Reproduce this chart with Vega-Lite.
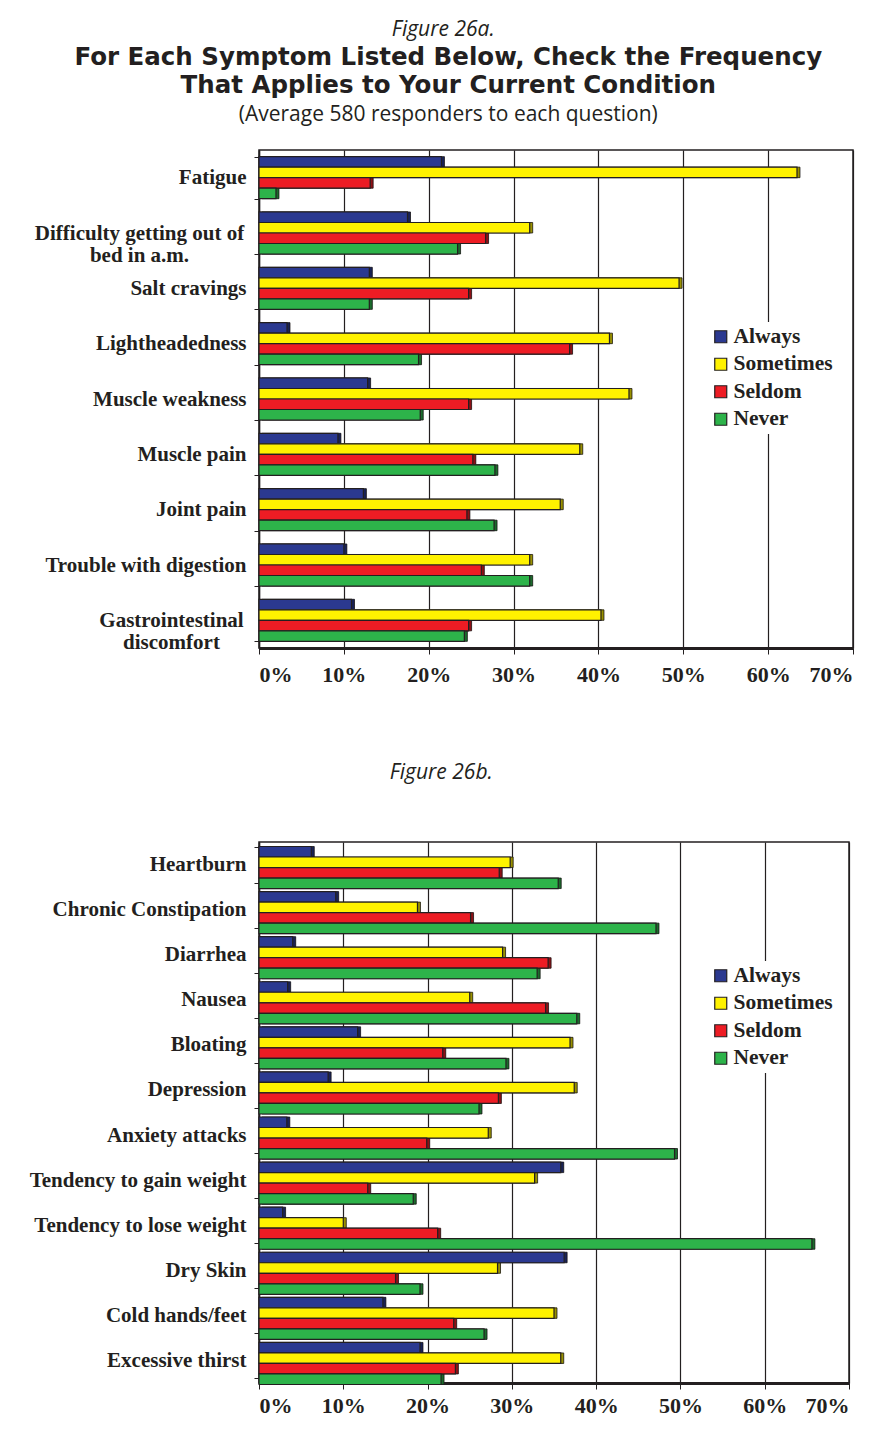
{
  "$schema": "https://vega.github.io/schema/vega-lite/v6.json",
  "background": "white",
  "padding": {"left": 20, "top": 18, "right": 8, "bottom": 5},
  "title": {"text": "Figure 26a.", "font": "Open Sans", "fontStyle": "italic", "fontWeight": "normal", "fontSize": 21, "color": "#231f20", "anchor": "middle", "offset": 4, "dx": 6},
  "datasets": {
    "a": [
      {"s": "Fatigue", "f": "Always", "v": 21.5},
      {"s": "Fatigue", "f": "Sometimes", "v": 63.4},
      {"s": "Fatigue", "f": "Seldom", "v": 13.1},
      {"s": "Fatigue", "f": "Never", "v": 2.0},
      {"s": "Difficulty getting out of bed in a.m.", "f": "Always", "v": 17.5},
      {"s": "Difficulty getting out of bed in a.m.", "f": "Sometimes", "v": 31.9},
      {"s": "Difficulty getting out of bed in a.m.", "f": "Seldom", "v": 26.7},
      {"s": "Difficulty getting out of bed in a.m.", "f": "Never", "v": 23.4},
      {"s": "Salt cravings", "f": "Always", "v": 13.0},
      {"s": "Salt cravings", "f": "Sometimes", "v": 49.5},
      {"s": "Salt cravings", "f": "Seldom", "v": 24.7},
      {"s": "Salt cravings", "f": "Never", "v": 13.0},
      {"s": "Lightheadedness", "f": "Always", "v": 3.3},
      {"s": "Lightheadedness", "f": "Sometimes", "v": 41.3},
      {"s": "Lightheadedness", "f": "Seldom", "v": 36.6},
      {"s": "Lightheadedness", "f": "Never", "v": 18.8},
      {"s": "Muscle weakness", "f": "Always", "v": 12.8},
      {"s": "Muscle weakness", "f": "Sometimes", "v": 43.6},
      {"s": "Muscle weakness", "f": "Seldom", "v": 24.7},
      {"s": "Muscle weakness", "f": "Never", "v": 19.0},
      {"s": "Muscle pain", "f": "Always", "v": 9.3},
      {"s": "Muscle pain", "f": "Sometimes", "v": 37.8},
      {"s": "Muscle pain", "f": "Seldom", "v": 25.2},
      {"s": "Muscle pain", "f": "Never", "v": 27.8},
      {"s": "Joint pain", "f": "Always", "v": 12.3},
      {"s": "Joint pain", "f": "Sometimes", "v": 35.5},
      {"s": "Joint pain", "f": "Seldom", "v": 24.5},
      {"s": "Joint pain", "f": "Never", "v": 27.7},
      {"s": "Trouble with digestion", "f": "Always", "v": 10.0},
      {"s": "Trouble with digestion", "f": "Sometimes", "v": 31.9},
      {"s": "Trouble with digestion", "f": "Seldom", "v": 26.2},
      {"s": "Trouble with digestion", "f": "Never", "v": 31.9},
      {"s": "Gastrointestinal discomfort", "f": "Always", "v": 10.9},
      {"s": "Gastrointestinal discomfort", "f": "Sometimes", "v": 40.3},
      {"s": "Gastrointestinal discomfort", "f": "Seldom", "v": 24.7},
      {"s": "Gastrointestinal discomfort", "f": "Never", "v": 24.2}
    ],
    "b": [
      {"s": "Heartburn", "f": "Always", "v": 6.2},
      {"s": "Heartburn", "f": "Sometimes", "v": 29.8},
      {"s": "Heartburn", "f": "Seldom", "v": 28.5},
      {"s": "Heartburn", "f": "Never", "v": 35.5},
      {"s": "Chronic Constipation", "f": "Always", "v": 9.1},
      {"s": "Chronic Constipation", "f": "Sometimes", "v": 18.8},
      {"s": "Chronic Constipation", "f": "Seldom", "v": 25.1},
      {"s": "Chronic Constipation", "f": "Never", "v": 47.1},
      {"s": "Diarrhea", "f": "Always", "v": 4.0},
      {"s": "Diarrhea", "f": "Sometimes", "v": 28.9},
      {"s": "Diarrhea", "f": "Seldom", "v": 34.3},
      {"s": "Diarrhea", "f": "Never", "v": 33.0},
      {"s": "Nausea", "f": "Always", "v": 3.4},
      {"s": "Nausea", "f": "Sometimes", "v": 25.0},
      {"s": "Nausea", "f": "Seldom", "v": 34.0},
      {"s": "Nausea", "f": "Never", "v": 37.7},
      {"s": "Bloating", "f": "Always", "v": 11.7},
      {"s": "Bloating", "f": "Sometimes", "v": 36.9},
      {"s": "Bloating", "f": "Seldom", "v": 21.8},
      {"s": "Bloating", "f": "Never", "v": 29.3},
      {"s": "Depression", "f": "Always", "v": 8.2},
      {"s": "Depression", "f": "Sometimes", "v": 37.4},
      {"s": "Depression", "f": "Seldom", "v": 28.4},
      {"s": "Depression", "f": "Never", "v": 26.1},
      {"s": "Anxiety attacks", "f": "Always", "v": 3.3},
      {"s": "Anxiety attacks", "f": "Sometimes", "v": 27.2},
      {"s": "Anxiety attacks", "f": "Seldom", "v": 19.9},
      {"s": "Anxiety attacks", "f": "Never", "v": 49.3},
      {"s": "Tendency to gain weight", "f": "Always", "v": 35.8},
      {"s": "Tendency to gain weight", "f": "Sometimes", "v": 32.7},
      {"s": "Tendency to gain weight", "f": "Seldom", "v": 12.9},
      {"s": "Tendency to gain weight", "f": "Never", "v": 18.3},
      {"s": "Tendency to lose weight", "f": "Always", "v": 2.8},
      {"s": "Tendency to lose weight", "f": "Sometimes", "v": 10.0},
      {"s": "Tendency to lose weight", "f": "Seldom", "v": 21.2},
      {"s": "Tendency to lose weight", "f": "Never", "v": 65.6},
      {"s": "Dry Skin", "f": "Always", "v": 36.2},
      {"s": "Dry Skin", "f": "Sometimes", "v": 28.3},
      {"s": "Dry Skin", "f": "Seldom", "v": 16.2},
      {"s": "Dry Skin", "f": "Never", "v": 19.1},
      {"s": "Cold hands/feet", "f": "Always", "v": 14.7},
      {"s": "Cold hands/feet", "f": "Sometimes", "v": 35.0},
      {"s": "Cold hands/feet", "f": "Seldom", "v": 23.1},
      {"s": "Cold hands/feet", "f": "Never", "v": 26.7},
      {"s": "Excessive thirst", "f": "Always", "v": 19.1},
      {"s": "Excessive thirst", "f": "Sometimes", "v": 35.8},
      {"s": "Excessive thirst", "f": "Seldom", "v": 23.3},
      {"s": "Excessive thirst", "f": "Never", "v": 21.6}
    ]
  },
  "vconcat": [
    {
      "data": {"name": "a"},
      "width": 594,
      "height": 498,
      "title": {
        "text": ["For Each Symptom Listed Below, Check the Frequency", "That Applies to Your Current Condition"],
        "subtitle": "(Average 580 responders to each question)",
        "font": "DejaVu Sans", "fontWeight": "bold", "fontSize": 24.5, "lineHeight": 28, "color": "#231f20",
        "subtitleFont": "Open Sans", "subtitleFontSize": 21, "subtitleColor": "#231f20", "subtitlePadding": 6,
        "anchor": "middle", "frame": "bounds", "offset": 13, "dx": 10
      },
      "encoding": {
        "y": {"field": "s", "type": "nominal", "sort": null, "title": null,
          "scale": {"paddingInner": 0.24, "paddingOuter": 0.12},
          "axis": {
            "labelExpr": "datum.value == 'Difficulty getting out of bed in a.m.' ? ['Difficulty getting out of', 'bed in a.m.'] : datum.value == 'Gastrointestinal discomfort' ? ['Gastrointestinal', 'discomfort'] : datum.value",
            "labelAlign": {"condition": {"test": "datum.value == 'Difficulty getting out of bed in a.m.' || datum.value == 'Gastrointestinal discomfort'", "value": "center"}, "value": "right"},
            "labelPadding": {"condition": [{"test": "datum.value == 'Difficulty getting out of bed in a.m.'", "value": 115}, {"test": "datum.value == 'Gastrointestinal discomfort'", "value": 83}], "value": 8},
            "minExtent": 236, "maxExtent": 236
          }
        },
        "yOffset": {"field": "f", "type": "nominal", "sort": ["Always", "Sometimes", "Seldom", "Never"], "scale": {"paddingInner": 0, "paddingOuter": 0}},
        "x": {"field": "v", "type": "quantitative", "title": null, "scale": {"domain": [0, 70], "nice": false}, "axis": {"values": [0, 10, 20, 30, 40, 50, 60, 70], "labelExpr": "datum.value + '%'", "labelPadding": 10}}
      },
      "layer": [
        {
          "mark": {"type": "bar", "xOffset": 3, "yOffset": -3, "stroke": "#231f20", "strokeWidth": 0.8},
          "encoding": {
            "color": {"field": "f", "type": "nominal", "title": null,
              "scale": {"domain": ["Always", "Sometimes", "Seldom", "Never"], "range": ["#2b3990", "#fff200", "#ed1c24", "#2db34a"]},
              "legend": {"orient": "none", "legendX": 447, "legendY": 172, "fillColor": "white", "padding": 4, "symbolType": "square", "symbolSize": 144, "symbolStrokeColor": "#231f20", "symbolStrokeWidth": 1.2, "symbolOpacity": 1, "labelFont": "Liberation Serif", "labelFontWeight": "bold", "labelFontSize": 21.5, "labelColor": "#231f20", "rowPadding": 4.5, "labelOffset": 2}
            }
          }
        },
        {
          "mark": {"type": "bar", "xOffset": 3, "yOffset": -3, "color": "black", "opacity": 0.4, "strokeWidth": 0}
        },
        {
          "mark": {"type": "bar", "stroke": "#231f20", "strokeWidth": 1.2},
          "encoding": {"color": {"field": "f", "type": "nominal"}}
        }
      ]
    },
    {
      "data": {"name": "b"},
      "width": 590,
      "height": 541,
      "title": {"text": "Figure 26b.", "font": "Open Sans", "fontStyle": "italic", "fontWeight": "normal", "fontSize": 21, "color": "#231f20", "anchor": "middle", "frame": "bounds", "offset": 48, "dx": 6},
      "encoding": {
        "y": {"field": "s", "type": "nominal", "sort": null, "title": null,
          "scale": {"paddingInner": 0.2, "paddingOuter": 0.1},
          "axis": {"minExtent": 238, "maxExtent": 238}
        },
        "yOffset": {"field": "f", "type": "nominal", "sort": ["Always", "Sometimes", "Seldom", "Never"], "scale": {"paddingInner": 0, "paddingOuter": 0}},
        "x": {"field": "v", "type": "quantitative", "title": null, "scale": {"domain": [0, 70], "nice": false}, "axis": {"values": [0, 10, 20, 30, 40, 50, 60, 70], "labelExpr": "datum.value + '%'", "labelPadding": 6}}
      },
      "layer": [
        {
          "mark": {"type": "bar", "xOffset": 3, "yOffset": -3, "stroke": "#231f20", "strokeWidth": 0.8},
          "encoding": {
            "color": {"field": "f", "type": "nominal", "title": null,
              "scale": {"domain": ["Always", "Sometimes", "Seldom", "Never"], "range": ["#2b3990", "#fff200", "#ed1c24", "#2db34a"]},
              "legend": {"orient": "none", "legendX": 447, "legendY": 119, "fillColor": "white", "padding": 4, "symbolType": "square", "symbolSize": 144, "symbolStrokeColor": "#231f20", "symbolStrokeWidth": 1.2, "symbolOpacity": 1, "labelFont": "Liberation Serif", "labelFontWeight": "bold", "labelFontSize": 21.5, "labelColor": "#231f20", "rowPadding": 4.5, "labelOffset": 2}
            }
          }
        },
        {
          "mark": {"type": "bar", "xOffset": 3, "yOffset": -3, "color": "black", "opacity": 0.4, "strokeWidth": 0}
        },
        {
          "mark": {"type": "bar", "stroke": "#231f20", "strokeWidth": 1.2},
          "encoding": {"color": {"field": "f", "type": "nominal"}}
        }
      ]
    }
  ],
  "spacing": 75,
  "resolve": {"scale": {"color": "independent"}, "legend": {"color": "independent"}},
  "config": {
    "view": {"stroke": "#231f20", "strokeWidth": 1.5},
    "axisY": {"labelFont": "Liberation Serif", "labelFontWeight": "bold", "labelFontSize": 21, "labelColor": "#231f20", "labelLineHeight": 22, "domainColor": "#231f20", "domainWidth": 1.5, "tickColor": "#231f20", "tickSize": 5, "tickBand": "extent", "labelPadding": 8, "grid": false, "labelLimit": 300},
    "axisX": {"labelFont": "Liberation Serif", "labelFontWeight": "bold", "labelFontSize": 22, "labelColor": "#231f20", "domainColor": "#231f20", "domainWidth": 3, "tickColor": "#231f20", "tickSize": 6, "grid": true, "gridColor": "#231f20", "gridWidth": 1.2, "gridOpacity": 1}
  }
}
